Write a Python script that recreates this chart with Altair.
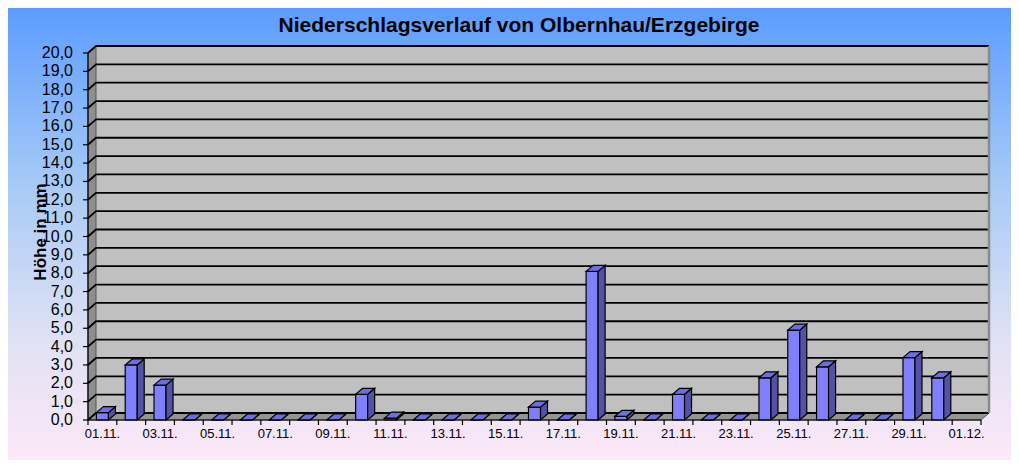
import altair as alt
import pandas as pd

# ---------------- data ----------------
days = ["01.11.", "02.11.", "03.11.", "04.11.", "05.11.", "06.11.", "07.11.", "08.11.",
        "09.11.", "10.11.", "11.11.", "12.11.", "13.11.", "14.11.", "15.11.", "16.11.",
        "17.11.", "18.11.", "19.11.", "20.11.", "21.11.", "22.11.", "23.11.", "24.11.",
        "25.11.", "26.11.", "27.11.", "28.11.", "29.11.", "30.11.", "01.12."]
values = [0.4, 3.0, 1.9, 0.0, 0.0, 0.0, 0.0, 0.0, 0.0, 1.4, 0.1, 0.0, 0.0, 0.0, 0.0, 0.7,
          0.0, 8.1, 0.2, 0.0, 1.4, 0.0, 0.0, 2.3, 4.9, 2.9, 0.0, 0.0, 3.4, 2.3, None]
y_ticks = list(range(0, 21))
title_text = "Niederschlagsverlauf von Olbernhau/Erzgebirge"
y_title = "Höhe in mm"

# ---------------- layout ----------------
W, H = 893, 367
N = len(days)
YMAX = 20
sx = W / N
sy = H / YMAX
wdx, wdy = 8 / sx, 7 / sy      # wall depth in data units
bdx, bdy = 7 / sx, 6 / sy      # bar depth in data units
bw = 12 / sx                   # bar front width
tlx, tly = 5 / sx, 5 / sy      # tick lengths
X0, X1 = 0.5, N + 0.5
FONT = "Liberation Sans"

xs = alt.Scale(domain=[X0, X1], nice=False, zero=False)
ys = alt.Scale(domain=[0, YMAX], nice=False, zero=False)


def X(f):
    return alt.X(f, type="quantitative", scale=xs, axis=None)


def Y(f):
    return alt.Y(f, type="quantitative", scale=ys, axis=None)


one = pd.DataFrame({"a": [0]})

# background gradient
grad = alt.Gradient(gradient="linear", x1=0, x2=0, y1=0, y2=1, stops=[
    alt.GradientStop(color="#5C9CFF", offset=0),
    alt.GradientStop(color="#A9CBF6", offset=0.4),
    alt.GradientStop(color="#E2E2F4", offset=0.75),
    alt.GradientStop(color="#FCE8F8", offset=1)])
bg = alt.Chart(one).mark_rect(fill=grad).encode(
    x=alt.value(-80), x2=alt.value(W + 30), y=alt.value(-45), y2=alt.value(H + 40))

# walls
back_df = pd.DataFrame({"xa": [X0 + wdx], "xb": [X1 + wdx], "ya": [wdy], "yb": [YMAX + wdy]})
back = alt.Chart(back_df).mark_rect(fill="#C0C0C0").encode(
    x=X("xa"), x2="xb", y=Y("ya"), y2="yb")

left_df = pd.DataFrame({"x": [X0, X0 + wdx], "top": [YMAX, YMAX + wdy], "bot": [0, wdy]})
left = alt.Chart(left_df).mark_area(orient="vertical", fill="#8E8E8E", stroke="#555555",
                                    strokeWidth=1).encode(
    x=X("x"), y=Y("top"), y2="bot")

floor_df = pd.DataFrame({"y": [0, wdy], "xa": [X0, X0 + wdx], "xb": [X1, X1 + wdx]})
floor = alt.Chart(floor_df).mark_area(orient="horizontal", fill="#949494", stroke="#555555",
                                      strokeWidth=1).encode(
    y=Y("y"), x=X("xa"), x2="xb")

right_df = pd.DataFrame({"x": [X1 + wdx, X1 + wdx], "y": [wdy, YMAX + wdy]})
right_edge = alt.Chart(right_df).mark_line(color="#8A8A8A", strokeWidth=2.5).encode(
    x=X("x"), y=Y("y"))

grid_rows = []
for k in y_ticks:
    grid_rows += [{"k": k, "o": 0, "x": X0, "y": k},
                  {"k": k, "o": 1, "x": X0 + wdx, "y": k + wdy},
                  {"k": k, "o": 2, "x": X1 + wdx, "y": k + wdy}]
grid = alt.Chart(pd.DataFrame(grid_rows)).mark_line(color="black", strokeWidth=1.8).encode(
    x=X("x"), y=Y("y"), detail="k:N", order="o:Q")

# bars
bars = [(i + 1, v) for i, v in enumerate(values) if v is not None]
front_df = pd.DataFrame({"i": [b[0] for b in bars], "v": [b[1] for b in bars]})
front_df["xa"] = front_df["i"] - bw / 2
front_df["xb"] = front_df["i"] + bw / 2
front_df["z"] = 0.0

side_rows, top_rows = [], []
for i, v in bars:
    xr = i + bw / 2
    xl = i - bw / 2
    side_rows += [{"i": i, "x": xr, "top": v, "bot": 0.0},
                  {"i": i, "x": xr + bdx, "top": v + bdy, "bot": bdy}]
    top_rows += [{"i": i, "y": v, "xa": xl, "xb": xr},
                 {"i": i, "y": v + bdy, "xa": xl + bdx, "xb": xr + bdx}]

front = alt.Chart(front_df).mark_rect(fill="#8080FF", stroke="black", strokeWidth=1.2).encode(
    x=X("xa"), x2="xb", y=Y("v"), y2="z")
side = alt.Chart(pd.DataFrame(side_rows)).mark_area(
    orient="vertical", fill="#5252A6", stroke="black", strokeWidth=1.2).encode(
    x=X("x"), y=Y("top"), y2="bot", detail="i:N")
top = alt.Chart(pd.DataFrame(top_rows)).mark_area(
    orient="horizontal", fill="#6E6EDC", stroke="black", strokeWidth=1.2).encode(
    y=Y("y"), x=X("xa"), x2="xb", detail="i:N")

# axes: domain lines, ticks and labels placed through the scales
dom_df = pd.DataFrame({"o": [0, 1, 2], "x": [X0, X0, X1], "y": [YMAX, 0, 0]})
domain = alt.Chart(dom_df).mark_line(color="black", strokeWidth=1.2).encode(
    x=X("x"), y=Y("y"), order="o:Q")

xt_df = pd.DataFrame({"b": [i + 0.5 for i in range(N + 1)]})
xt_df["ya"] = 0.0
xt_df["yb"] = -tly
xticks = alt.Chart(xt_df).mark_rule(color="black", strokeWidth=1.2).encode(
    x=X("b"), y=Y("ya"), y2="yb")

yt_df = pd.DataFrame({"k": y_ticks})
yt_df["xa"] = X0 - tlx
yt_df["xb"] = X0
yticks = alt.Chart(yt_df).mark_rule(color="black", strokeWidth=1.2).encode(
    x=X("xa"), x2="xb", y=Y("k"))

yl_df = pd.DataFrame({"k": y_ticks})
yl_df["lab"] = [("%.1f" % k).replace(".", ",") for k in y_ticks]
yl_df["x"] = X0 - 15 / sx
ylabels = alt.Chart(yl_df).mark_text(font=FONT, fontSize=16, align="right", baseline="middle",
                                     color="black").encode(
    x=X("x"), y=Y("k"), text="lab:N")

xl_df = pd.DataFrame({"i": list(range(1, N + 1)), "lab": days}).iloc[::2].copy()
xl_df["y"] = -7.5 / sy
xlabels = alt.Chart(xl_df).mark_text(font=FONT, fontSize=13, align="center", baseline="top",
                                     color="black").encode(
    x=X("i"), y=Y("y"), text="lab:N")

title = alt.Chart(one).mark_text(text=title_text, font=FONT, fontSize=21, fontWeight="bold",
                                 align="center", baseline="middle", color="black").encode(
    x=alt.value(431), y=alt.value(-27))
ytitle = alt.Chart(one).mark_text(text=y_title, font=FONT, fontSize=17, fontWeight="bold",
                                  angle=270, align="center", baseline="middle",
                                  color="black").encode(
    x=alt.value(-47), y=alt.value(179))

chart = alt.layer(bg, back, left, floor, grid, right_edge, front, side, top, domain, xticks,
                  yticks, ylabels, xlabels, title, ytitle).properties(
    width=W, height=H,
    autosize=alt.AutoSizeParams(type="none"),
    padding={"left": 80, "top": 45, "right": 30, "bottom": 40},
).configure_view(stroke=None)

chart.save("out.html", embed_options={"renderer": "svg", "actions": False})
